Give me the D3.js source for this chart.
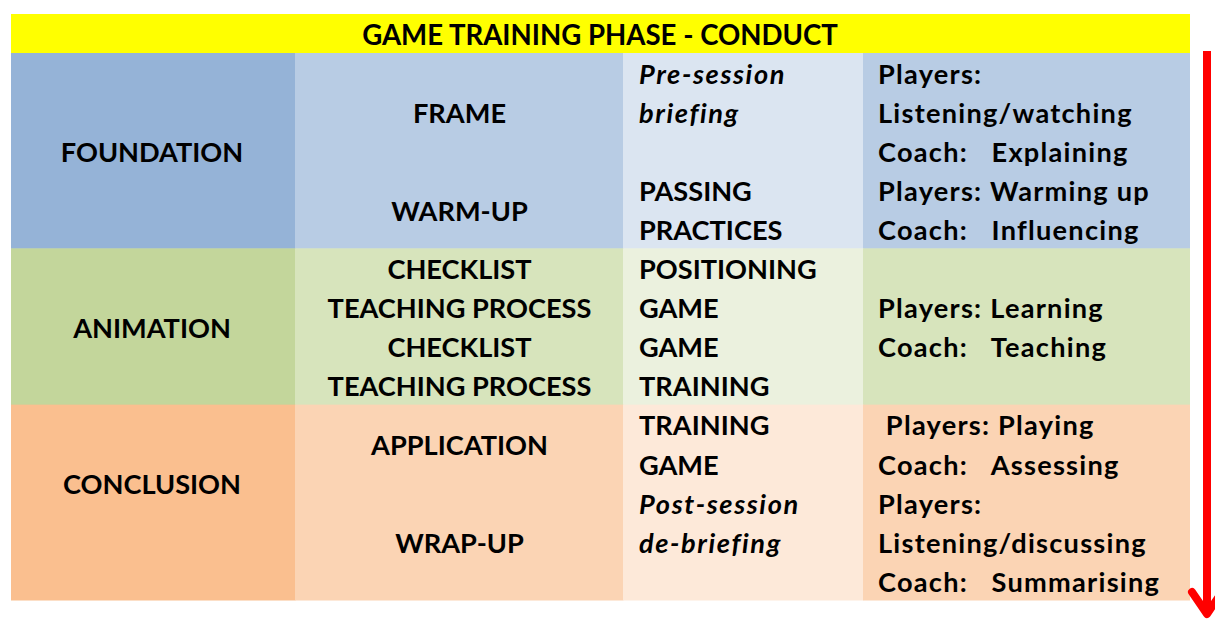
<!DOCTYPE html>
<html><head><meta charset="utf-8">
<script src="https://cdn.jsdelivr.net/npm/d3@7"></script>
<style>body{margin:0;background:#fff}svg{display:block}</style>
</head><body>
<script>
// ---------- data ----------
const title = "GAME TRAINING PHASE - CONDUCT";
const phases = ["FOUNDATION", "ANIMATION", "CONCLUSION"];
const phaseSlots = [[0, 5], [5, 9], [9, 14]]; // line slots spanned by each phase
const phaseLabelSlot = [2.5, 7, 11];
const columns = ["phase", "stage", "activity", "roles"];
const colFills = {
  FOUNDATION: ["#95B3D7", "#B8CCE4", "#DBE5F1", "#B8CCE4"],
  ANIMATION:  ["#C3D69B", "#D7E4BC", "#EBF1DE", "#D7E4BC"],
  CONCLUSION: ["#FABF8F", "#FBD4B4", "#FDE9D9", "#FBD4B4"]
};
const stageTexts = [
  {t: "FRAME", s: 1.5}, {t: "WARM-UP", s: 4},
  {t: "CHECKLIST", s: 5.5}, {t: "TEACHING PROCESS", s: 6.5},
  {t: "CHECKLIST", s: 7.5}, {t: "TEACHING PROCESS", s: 8.5},
  {t: "APPLICATION", s: 10}, {t: "WRAP-UP", s: 12.5}
];
const activityTexts = [
  {t: "Pre-session", s: 0.5, i: true}, {t: "briefing", s: 1.5, i: true},
  {t: "PASSING", s: 3.5}, {t: "PRACTICES", s: 4.5},
  {t: "POSITIONING", s: 5.5}, {t: "GAME", s: 6.5}, {t: "GAME", s: 7.5}, {t: "TRAINING", s: 8.5},
  {t: "TRAINING", s: 9.5}, {t: "GAME", s: 10.5},
  {t: "Post-session", s: 11.5, i: true}, {t: "de-briefing", s: 12.5, i: true}
];
const roleTexts = [
  {t: "Players:", s: 0.5}, {t: "Listening/watching", s: 1.5}, {t: "Coach:\u00A0\u00A0 Explaining", s: 2.5},
  {t: "Players: Warming up", s: 3.5}, {t: "Coach:\u00A0\u00A0 Influencing", s: 4.5},
  {t: "Players: Learning", s: 6.5}, {t: "Coach:\u00A0\u00A0 Teaching", s: 7.5},
  {t: "\u00A0Players: Playing", s: 9.5}, {t: "Coach:\u00A0\u00A0 Assessing", s: 10.5},
  {t: "Players:", s: 11.5}, {t: "Listening/discussing", s: 12.5}, {t: "Coach:\u00A0\u00A0 Summarising", s: 13.5}
];

// ---------- layout ----------
const W = 1215, H = 620;
const svg = d3.select("body").append("svg").attr("width", W).attr("height", H);
const font = "Lato, 'Open Sans', sans-serif";

const y = d3.scaleLinear().domain([0, 14]).range([53, 600]);
const colEdges = [11, 295, 623, 863, 1190];
const x = d3.scaleOrdinal().domain(columns).range(colEdges.slice(0, 4));
const colW = c => colEdges[columns.indexOf(c) + 1] - x(c);

// header
svg.append("rect").attr("x", 11).attr("y", 14).attr("width", 1190 - 11).attr("height", 39).attr("fill", "#FFFF00");

// cells
phases.forEach((p, pi) => {
  columns.forEach((c, ci) => {
    svg.append("rect")
      .attr("x", x(c)).attr("y", y(phaseSlots[pi][0]))
      .attr("width", colW(c) + (ci < 3 ? 0.5 : 0))
      .attr("height", y(phaseSlots[pi][1]) - y(phaseSlots[pi][0]) + 0.5)
      .attr("fill", colFills[p][ci]);
  });
});

// font size fit
const probe = svg.append("text").attr("font-family", font).attr("font-weight", 700).attr("font-size", 100).text("TEACHING PROCESS");
const fs = 100 * 264 / probe.node().getComputedTextLength();
probe.text(title);
const fsT = 100 * 476 / probe.node().getComputedTextLength();
probe.remove();

const g = svg.append("g").attr("font-family", font).attr("font-weight", 700).attr("fill", "#000");
const dy = fs * 0.36 + 1.5;

g.append("text").attr("x", 600).attr("y", 35 + fsT * 0.36).attr("text-anchor", "middle")
  .attr("font-size", fsT).text(title);

g.selectAll(".ph").data(phases).join("text")
  .attr("x", x("phase") + colW("phase") / 2 - 1)
  .attr("y", (d, i) => y(phaseLabelSlot[i]) + dy)
  .attr("text-anchor", "middle").attr("font-size", fs).text(d => d);

g.selectAll(".st").data(stageTexts).join("text")
  .attr("x", x("stage") + colW("stage") / 2 + 0.5)
  .attr("y", d => y(d.s) + dy)
  .attr("text-anchor", "middle").attr("font-size", fs).text(d => d.t);

g.selectAll(".ac").data(activityTexts).join("text")
  .attr("x", x("activity") + 16)
  .attr("y", d => y(d.s) + dy)
  .attr("font-style", d => d.i ? "italic" : null)
  .attr("letter-spacing", d => d.i ? 1.6 : null)
  .attr("font-size", fs).text(d => d.t);

g.selectAll(".ro").data(roleTexts).join("text")
  .attr("x", x("roles") + 15)
  .attr("y", d => y(d.s) + dy)
  .attr("letter-spacing", 1.25)
  .attr("font-size", fs).attr("xml:space", "preserve").text(d => d.t);

// red arrow
const arrowX = 1207;
svg.append("line").attr("x1", arrowX).attr("x2", arrowX).attr("y1", 51).attr("y2", 612)
  .attr("stroke", "#FF0000").attr("stroke-width", 8);
svg.append("path")
  .attr("d", `M${arrowX - 15},${592} L${arrowX},${614} L${arrowX + 15},${592}`)
  .attr("fill", "none").attr("stroke", "#FF0000").attr("stroke-width", 8)
  .attr("stroke-linecap", "round").attr("stroke-linejoin", "round");
</script>
</body></html>
